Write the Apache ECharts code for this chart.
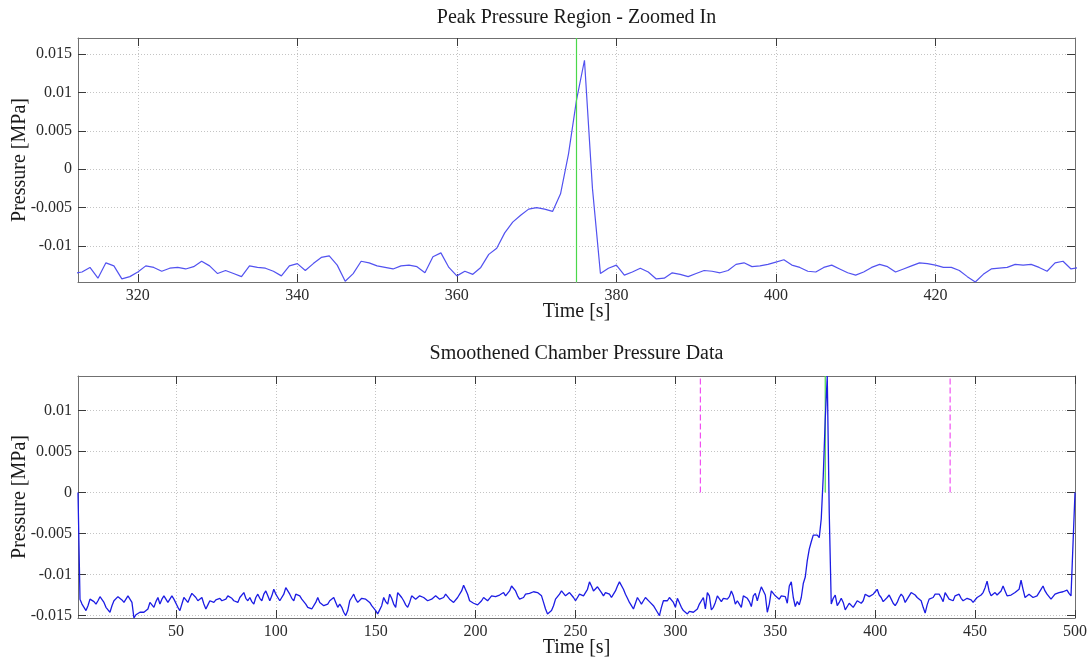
<!DOCTYPE html>
<html>
<head>
<meta charset="utf-8">
<title>Chamber Pressure</title>
<script src="https://cdn.jsdelivr.net/npm/echarts@6/dist/echarts.min.js"></script>
<style>
  html, body { margin: 0; padding: 0; background: #ffffff; }
  #chart { width: 1090px; height: 662px; }
</style>
</head>
<body>
<div id="chart"></div>
<script>
// Smoothened chamber pressure record, one sample per second starting at t = 1 s (kPa).
const RECORD_START_S = 1;
const pressureKPa = [
  0, -13.0, -13.6, -14.0, -14.4, -13.8, -13.0, -12.8, -13.3, -13.6,
  -13.2, -12.7, -12.6, -13.4, -14.0, -14.3, -14.6, -13.8, -13.2, -13.0,
  -12.7, -12.6, -13.1, -13.4, -13.0, -12.6, -13.0, -13.4, -15.3, -14.9,
  -14.7, -14.6, -14.8, -14.6, -14.7, -14.2, -13.4, -13.6, -14.0, -13.3,
  -12.8, -13.6, -13.0, -12.6, -12.5, -13.4, -13.2, -12.6, -13.0, -13.2,
  -14.0, -14.4, -13.6, -12.8, -13.1, -13.4, -12.8, -12.3, -12.2, -12.8,
  -13.2, -13.0, -12.8, -13.6, -14.2, -13.7, -13.2, -13.3, -13.4, -13.1,
  -13.0, -12.9, -13.2, -13.4, -13.0, -12.6, -12.4, -12.9, -13.2, -13.3,
  -13.4, -12.8, -12.6, -12.2, -12.9, -13.2, -12.8, -13.3, -13.6, -12.8,
  -12.4, -12.9, -13.2, -12.4, -12.0, -12.6, -13.2, -12.6, -11.8, -12.4,
  -12.8, -13.2, -13.4, -12.4, -11.6, -12.0, -12.4, -12.9, -13.2, -12.4,
  -12.5, -12.6, -13.0, -13.2, -13.6, -14.0, -14.0, -14.2, -14.2, -13.4,
  -12.8, -13.4, -13.6, -13.8, -14.0, -13.6, -13.2, -13.0, -12.8, -13.4,
  -14.0, -13.6, -14.0, -14.6, -15.0, -14.4, -13.2, -12.8, -12.4, -13.0,
  -13.4, -13.2, -12.9, -12.8, -13.0, -13.2, -13.4, -13.8, -14.0, -14.4,
  -14.8, -14.8, -13.8, -12.8, -13.3, -13.6, -12.4, -12.9, -13.6, -14.0,
  -12.2, -12.5, -12.8, -13.2, -13.7, -14.0, -13.4, -12.6, -12.7, -13.0,
  -13.0, -12.6, -12.4, -12.8, -13.0, -13.2, -13.1, -13.0, -12.8, -12.6,
  -12.6, -13.0, -13.2, -12.8, -12.4, -12.6, -13.0, -13.2, -13.4, -13.3,
  -12.8, -12.6, -12.0, -11.3, -11.4, -12.4, -13.2, -13.4, -13.5, -13.6,
  -13.7, -13.8, -13.2, -12.8, -13.0, -13.2, -12.9, -12.6, -12.6, -12.7,
  -12.8, -12.5, -12.3, -12.2, -12.6, -12.8, -12.0, -11.4, -11.2, -12.0,
  -12.6, -13.0, -13.2, -12.8, -12.4, -12.2, -12.3, -12.4, -12.1, -12.0,
  -12.2, -12.4, -12.6, -13.4, -14.2, -14.8, -14.6, -14.4, -13.8, -13.0,
  -12.8, -12.4, -12.0, -12.3, -12.6, -12.4, -12.2, -12.2, -12.8, -13.2,
  -12.8, -12.4, -12.4, -12.6, -12.8, -11.8, -10.9, -11.4, -12.0, -11.8,
  -11.5, -11.6, -12.2, -12.6, -12.2, -12.0, -12.4, -12.8, -12.4, -12.0,
  -11.4, -10.9, -11.0, -11.8, -12.4, -12.9, -13.4, -13.8, -14.2, -13.5,
  -12.8, -13.2, -13.6, -13.2, -12.8, -13.0, -13.3, -13.4, -13.8, -14.0,
  -14.6, -15.0, -14.0, -13.2, -13.2, -13.2, -12.8, -12.6, -13.4, -14.0,
  -12.9, -13.0, -14.0, -14.4, -14.6, -14.8, -14.5, -14.4, -14.6, -14.8,
  -14.2, -13.6, -13.4, -12.8, -14.2, -12.2, -12.6, -14.3, -14.0, -13.4,
  -12.6, -12.8, -13.3, -12.9, -12.8, -13.0, -12.7, -12.0, -12.6, -13.6,
  -13.2, -13.6, -14.0, -12.6, -12.8, -12.9, -13.3, -13.9, -12.6, -12.3,
  -13.2, -12.3, -11.5, -11.3, -12.5, -14.6, -13.6, -12.0, -12.2, -12.6,
  -12.8, -13.0, -12.6, -12.5, -12.7, -13.5, -11.4, -10.9, -12.8, -13.9,
  -13.3, -13.7, -12.8, -11.1, -10.3, -8.3, -6.9, -6.0, -5.2, -5.0,
  -5.2, -5.5, -3.2, 2.0, 9.0, 14.2, -2.5, -13.6, -12.9, -12.5,
  -13.8, -13.4, -12.9, -13.4, -14.3, -14.2, -13.5, -13.7, -14.0, -13.6,
  -13.2, -13.3, -13.5, -13.2, -12.4, -12.2, -12.7, -12.6, -12.4, -12.1,
  -11.8, -12.5, -12.8, -13.3, -13.4, -12.8, -12.5, -13.0, -13.5, -13.8,
  -13.4, -12.8, -12.4, -12.7, -13.4, -13.0, -12.6, -12.2, -12.3, -12.5,
  -12.8, -12.8, -13.2, -14.0, -14.7, -13.7, -13.0, -12.9, -12.8, -12.4,
  -12.5, -12.4, -12.8, -13.3, -12.2, -12.0, -13.0, -12.8, -13.2, -12.6,
  -12.6, -12.4, -12.9, -13.2, -13.2, -12.9, -12.8, -13.1, -13.4, -13.2,
  -12.8, -12.9, -12.5, -12.2, -11.6, -10.8, -12.0, -12.6, -12.4, -12.2,
  -12.5, -12.4, -12.0, -11.4, -12.0, -12.6, -12.8, -12.5, -12.4, -12.2,
  -12.0, -11.8, -10.7, -11.8, -12.8, -12.6, -12.4, -12.6, -12.8, -12.8,
  -12.6, -12.2, -11.8, -11.4, -12.0, -12.4, -12.6, -13.0, -12.8, -12.4,
  -12.2, -12.2, -12.0, -12.1, -12.0, -11.9, -12.3, -12.6, -12.5, 0
];

// Marker at the pressure peak and the half-width of the zoom window around it (s).
const peakMarkerS = 375;
const zoomHalfWidthS = 62.5;

// Tick positions.
const zoomTimeTicks = [320, 340, 360, 380, 400, 420];
const zoomPressureTicks = [-0.01, -0.005, 0, 0.005, 0.01, 0.015];
const fullTimeTicks = [50, 100, 150, 200, 250, 300, 350, 400, 450, 500];
const fullPressureTicks = [-0.015, -0.01, -0.005, 0, 0.005, 0.01];

// Upper limit of the zoomed pressure axis (MPa).
const zoomPressureMaxMPa = 0.0171;

// ---- derived series (MPa vs s) ----
const record = pressureKPa.map((p, i) => [RECORD_START_S + i, p / 1000]);
const recordEndS = RECORD_START_S + pressureKPa.length - 1;
const windowStart = peakMarkerS - zoomHalfWidthS;
const windowEnd = peakMarkerS + zoomHalfWidthS;
const inWindow = record.filter(d => d[0] >= windowStart && d[0] <= windowEnd);
const zoomMin = Math.min(...inWindow.map(d => d[1]));
const recordMin = Math.min(...record.map(d => d[1]));
const recordMax = Math.max(...record.map(d => d[1]));

const FONT = '"Liberation Serif", "Times New Roman", serif';
const FRAME = '#707070';
const TICK = '#3a3a3a';
const GRIDLINE = '#c4c4c4';
const MAGENTA = '#f050f0';

function fmt(v) {
  const r = +(+v).toFixed(4);
  return r === 0 ? '0' : String(r);
}

function axis(kind, gridIndex, position, min, max, ticks, primary, name) {
  const a = {
    type: 'value',
    gridIndex,
    position,
    min, max,
    axisLine: { show: true, onZero: false, lineStyle: { color: FRAME, width: 1 } },
    axisTick: {
      show: true, inside: true, length: 8, customValues: ticks,
      lineStyle: { color: TICK, width: 1 }
    },
    axisLabel: {
      show: primary, customValues: ticks, formatter: fmt,
      fontFamily: FONT, fontSize: 16, color: '#2a2a2a', margin: 6,
      showMinLabel: true, showMaxLabel: true
    },
    splitLine: {
      show: primary,
      lineStyle: { color: GRIDLINE, type: [1, 2], width: 1 }
    }
  };
  if (primary && name) {
    a.name = name;
    a.nameLocation = 'middle';
    a.nameMoveOverlap = false;
    a.nameTextStyle = { fontFamily: FONT, fontSize: 20, color: '#1a1a1a' };
    a.nameGap = kind === 'x' ? 20 : 48;
  }
  return a;
}

const chart = echarts.init(document.getElementById('chart'), null, { renderer: 'canvas' });

chart.setOption({
  animation: false,
  backgroundColor: '#ffffff',
  title: [
    {
      text: 'Peak Pressure Region - Zoomed In',
      left: 576.5, top: 8, textAlign: 'center', padding: 0,
      textStyle: { fontFamily: FONT, fontSize: 20, fontWeight: 'normal', color: '#1a1a1a' }
    },
    {
      text: 'Smoothened Chamber Pressure Data',
      left: 576.5, top: 344, textAlign: 'center', padding: 0,
      textStyle: { fontFamily: FONT, fontSize: 20, fontWeight: 'normal', color: '#1a1a1a' }
    }
  ],
  grid: [
    { left: 78, top: 38, width: 997, height: 244, containLabel: false, outerBoundsMode: 'none' },
    { left: 78, top: 376, width: 997, height: 242, containLabel: false, outerBoundsMode: 'none' }
  ],
  xAxis: [
    axis('x', 0, 'bottom', windowStart, windowEnd, zoomTimeTicks, true, 'Time [s]'),
    axis('x', 0, 'top', windowStart, windowEnd, zoomTimeTicks, false),
    axis('x', 1, 'bottom', RECORD_START_S, recordEndS, fullTimeTicks, true, 'Time [s]'),
    axis('x', 1, 'top', RECORD_START_S, recordEndS, fullTimeTicks, false)
  ],
  yAxis: [
    axis('y', 0, 'left', zoomMin, zoomPressureMaxMPa, zoomPressureTicks, true, 'Pressure [MPa]'),
    axis('y', 0, 'right', zoomMin, zoomPressureMaxMPa, zoomPressureTicks, false),
    axis('y', 1, 'left', recordMin, recordMax, fullPressureTicks, true, 'Pressure [MPa]'),
    axis('y', 1, 'right', recordMin, recordMax, fullPressureTicks, false)
  ],
  series: [
    // zoomed view of the peak
    {
      type: 'line', xAxisIndex: 0, yAxisIndex: 0,
      data: record, showSymbol: false, clip: true, z: 3,
      itemStyle: { color: '#5252f0' },
      lineStyle: { color: '#5252f0', width: 1.2 },
      markLine: {
        silent: true, symbol: 'none', animation: false,
        label: { show: false },
        lineStyle: { color: '#4ad84a', width: 1.2, type: 'solid' },
        data: [{ xAxis: peakMarkerS }]
      }
    },
    // peak marker on the full record
    {
      type: 'line', xAxisIndex: 2, yAxisIndex: 2, z: 2,
      data: [[peakMarkerS, 0], [peakMarkerS, recordMax]],
      showSymbol: false,
      itemStyle: { color: '#4ad84a' },
      lineStyle: { color: '#4ad84a', width: 1.2 }
    },
    // zoom window limits
    {
      type: 'line', xAxisIndex: 2, yAxisIndex: 2, z: 2,
      data: [[windowStart, 0], [windowStart, recordMax]],
      showSymbol: false,
      itemStyle: { color: MAGENTA },
      lineStyle: { color: MAGENTA, width: 1.2, type: [6, 3] }
    },
    {
      type: 'line', xAxisIndex: 2, yAxisIndex: 2, z: 2,
      data: [[windowEnd, 0], [windowEnd, recordMax]],
      showSymbol: false,
      itemStyle: { color: MAGENTA },
      lineStyle: { color: MAGENTA, width: 1.2, type: [6, 3] }
    },
    // full record
    {
      type: 'line', xAxisIndex: 2, yAxisIndex: 2, z: 3,
      data: record, showSymbol: false, clip: true,
      itemStyle: { color: '#1c1ce4' },
      lineStyle: { color: '#1c1ce4', width: 1.3 }
    }
  ]
});
</script>
</body>
</html>
